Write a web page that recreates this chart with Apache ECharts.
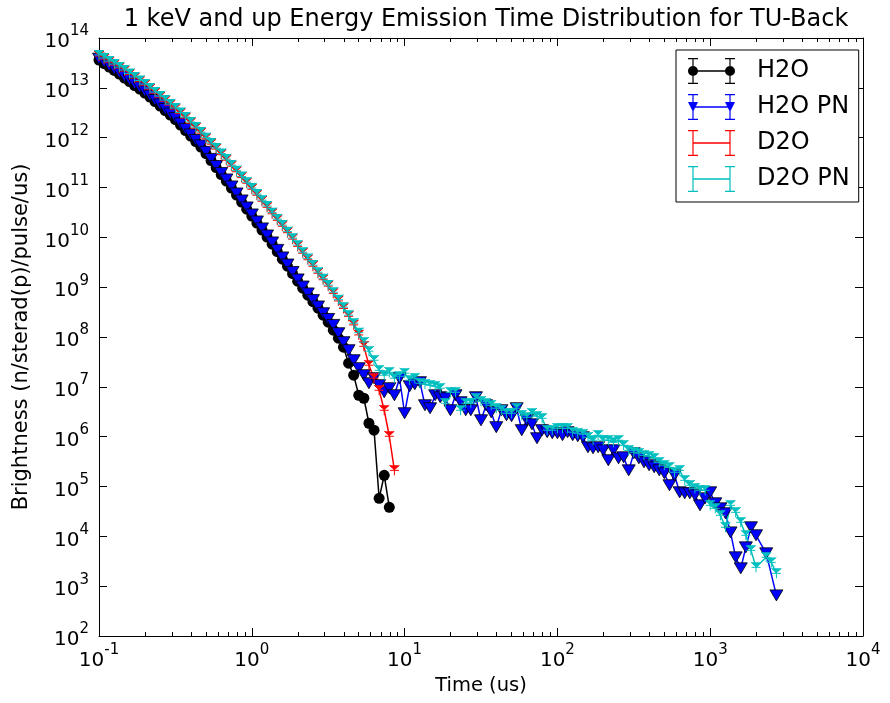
<!DOCTYPE html>
<html><head><meta charset="utf-8">
<script src="https://cdn.jsdelivr.net/npm/echarts@6/dist/echarts.min.js"></script>
<style>html,body{margin:0;padding:0;background:#fff}#c{width:890px;height:703px}</style>
</head><body><div id="c"></div>
<script>
// Time bins (us)
const time = [
0.1,0.108,0.1166,0.1259,0.1359,0.1468,0.1585,0.1711,0.1848,0.1995,0.2154,0.2326,0.2512,0.2712,0.2929,0.3162,0.3415,0.3687,0.3981,0.4299,0.4642,0.5012,0.5412,0.5843,0.631,0.6813,0.7356,0.7943,0.8577,0.9261,
1,1.08,1.166,1.259,1.359,1.468,1.585,1.711,1.848,1.995,2.154,2.326,2.512,2.712,2.929,3.162,3.415,3.687,3.981,4.299,4.642,5.012,5.412,5.843,6.31,6.813,7.356,7.943,8.577,9.261,
10,10.8,11.66,12.59,13.59,14.68,15.85,17.11,18.48,19.95,21.54,23.26,25.12,27.12,29.29,31.62,34.15,36.87,39.81,42.99,46.42,50.12,54.12,58.43,63.1,68.13,73.56,79.43,85.77,92.61,
100,108,116.6,125.9,135.9,146.8,158.5,171.1,184.8,199.5,215.4,232.6,251.2,271.2,292.9,316.2,341.5,368.7,398.1,429.9,464.2,501.2,541.2,584.3,631,681.3,735.6,794.3,857.7,926.1,
1000,1080,1166,1259,1359,1468,1585,1711,1848,1995,2154,2326,2512,2712];

const h2o = [
3.62e13,3.08e13,2.62e13,2.23e13,1.89e13,1.57e13,1.34e13,1.11e13,9.46e12,7.87e12,
6.53e12,5.31e12,4.31e12,3.50e12,2.84e12,2.31e12,1.79e12,1.39e12,1.08e12,8.35e11,
6.48e11,4.80e11,3.47e11,2.51e11,1.82e11,1.35e11,9.73e10,7.04e10,5.09e10,3.68e10,
2.67e10,1.93e10,1.40e10,1.01e10,7.30e9,5.16e9,3.65e9,2.64e9,1.87e9,1.32e9,
9.55e8,6.91e8,5.12e8,3.79e8,2.74e8,1.98e8,1.37e8,9.46e7,6.24e7,2.98e7,
1.71e7,6.78e6,5.90e6,1.86e6,1.35e6,5.80e4,1.68e5,3.82e4];

const h2oPN = [
3.85e13,3.3e13,2.8e13,2.4e13,2.03e13,1.69e13,1.44e13,1.2e13,1.02e13,8.5e12,
7.0e12,5.7e12,4.65e12,3.76e12,3.05e12,2.49e12,1.93e12,1.5e12,1.16e12,9.0e11,
7.0e11,5.2e11,3.75e11,2.7e11,1.96e11,1.45e11,1.05e11,7.6e10,5.5e10,3.98e10,
2.88e10,2.08e10,1.51e10,1.09e10,7.9e9,5.6e9,3.95e9,2.85e9,2.02e9,1.43e9,
1.03e9,7.5e8,5.5e8,4.1e8,3.0e8,2.3e8,1.75e8,1.19e8,7.87e7,5.43e7,
3.42e7,2.36e7,1.71e7,1.18e7,1.49e7,1.08e7,7.79e6,9.38e6,6.78e6,1.49e7,
2.95e6,1.03e7,1.13e7,1.24e7,4.27e6,3.72e6,6.78e6,6.18e6,5.90e6,3.39e6,
6.78e6,4.91e6,3.39e6,3.39e6,6.18e6,2.13e6,4.27e6,3.09e6,1.55e6,3.39e6,
2.69e6,2.57e6,3.72e6,1.35e6,2.13e6,1.77e6,9.29e5,1.35e6,1.23e6,1.17e6,
1.17e6,1.07e6,1.23e6,1.07e6,1.02e6,9.73e5,6.12e5,5.85e5,6.12e5,5.33e5,
3.36e5,5.33e5,3.68e5,3.86e5,2.11e5,4.64e5,3.68e5,3.06e5,2.67e5,2.43e5,
2.11e5,1.84e5,1.06e5,1.68e5,7.65e4,7.30e4,7.30e4,6.65e4,4.19e4,5.80e4,
7.65e4,4.60e4,3.65e4,2.90e4,1.20e4,3.79e3,2.28e3,6.01e3,1.52e4,1.05e4,
null,4.56e3,null,653];

const d2o = [
4.35e13,3.78e13,3.28e13,2.86e13,2.49e13,2.17e13,1.84e13,1.57e13,1.33e13,1.13e13,
9.4e12,7.8e12,6.5e12,5.4e12,4.5e12,3.73e12,3.03e12,2.46e12,1.96e12,1.55e12,
1.23e12,9.5e11,7.4e11,5.9e11,4.56e11,3.53e11,2.68e11,2.07e11,1.58e11,1.22e11,
9.2e10,7.0e10,5.3e10,4.0e10,2.97e10,2.2e10,1.67e10,1.24e10,9.2e9,6.6e9,
4.8e9,3.55e9,2.63e9,1.9e9,1.41e9,1.05e9,7.5e8,5.3e8,3.75e8,2.6e8,
1.75e8,1.1e8,6.5e7,2.72e7,1.49e7,8.54e6,3.39e6,1.02e6,2.11e5];

const d2oPN = [
4.56e13,3.97e13,3.45e13,3.01e13,2.62e13,2.28e13,1.94e13,1.65e13,1.40e13,1.19e13,
9.91e12,8.24e12,6.84e12,5.69e12,4.73e12,3.93e12,3.19e12,2.59e12,2.06e12,1.63e12,
1.30e12,1.00e12,7.79e11,6.18e11,4.80e11,3.72e11,2.82e11,2.18e11,1.66e11,1.28e11,
9.73e10,7.37e10,5.58e10,4.23e10,3.13e10,2.32e10,1.76e10,1.30e10,9.64e9,6.97e9,
5.04e9,3.74e9,2.77e9,2.00e9,1.48e9,1.10e9,7.94e8,5.61e8,3.97e8,2.74e8,
1.89e8,1.22e8,7.87e7,5.19e7,3.42e7,2.15e7,1.71e7,1.96e7,1.49e7,1.63e7,
1.88e7,1.36e7,1.49e7,1.18e7,1.13e7,1.08e7,1.03e7,9.38e6,4.69e6,7.79e6,
7.79e6,3.39e6,4.69e6,4.69e6,5.90e6,5.14e6,4.69e6,4.27e6,3.72e6,3.39e6,
2.95e6,2.95e6,3.72e6,2.69e6,2.45e6,2.95e6,2.57e6,2.34e6,1.35e6,1.35e6,
1.47e6,1.47e6,1.47e6,1.23e6,1.17e6,1.12e6,9.73e5,8.47e5,1.07e6,8.47e5,
8.47e5,7.72e5,8.47e5,6.72e5,5.33e5,4.86e5,4.64e5,4.23e5,4.04e5,3.68e5,
3.06e5,2.67e5,2.43e5,1.93e5,2.11e5,1.33e5,1.06e5,9.20e4,8.39e4,8.39e4,
4.19e4,3.65e4,2.64e4,1.52e4,4.19e4,3.03e4,1.91e4,1.05e4,5.23e3,2.39e3,
null,3.79e3,3.00e3,1.81e3];

const seriesNames = ['H2O', 'H2O PN', 'D2O', 'D2O PN'];
const xMinorTicks = [0.2,0.3,0.4,0.5,0.6,0.7,0.8,0.9,2,3,4,5,6,7,8,9,20,30,40,50,60,70,80,90,200,300,400,500,600,700,800,900,2000,3000,4000,5000,6000,7000,8000,9000];

function pairs(vals) {
  const out = [];
  vals.forEach((v, i) => { if (v != null) out.push([time[i], v]); });
  return out;
}

const FONT = 'DejaVu Sans';
function supFmt(v) {
  const e = Math.round(Math.log10(v));
  return '{b|10}{s|' + e + '}';
}
const richLab = {
  b: { fontSize: 20, fontFamily: FONT, color: '#000', verticalAlign: 'bottom', lineHeight: 28 },
  s: { fontSize: 15, fontFamily: FONT, color: '#000', verticalAlign: 'top', lineHeight: 28 }
};

// legend icons (errorbar style)
const bars = 'M5 12.3 H42 V13.7 H5 Z M4.4 1 H5.6 V25 H4.4 Z M0 0 H10 V1.2 H0 Z M0 24.8 H10 V26 H0 Z M41.4 1 H42.6 V25 H41.4 Z M37 0 H47 V1.2 H37 Z M37 24.8 H47 V26 H37 Z ';
const iconH2O = 'path://' + bars + 'M0 13 a5 5 0 1 1 10 0 a5 5 0 1 1 -10 0 Z M37 13 a5 5 0 1 1 10 0 a5 5 0 1 1 -10 0 Z';
const iconH2OPN = 'path://' + bars + 'M0 8 H10 L5 18 Z M37 8 H47 L42 18 Z';
const iconD = 'path://' + bars;
const triPath = 'path://M0 1 L5 5 L10 1 M5 5 L5 10 M0.5 5.5 L9.5 5.5';

const chart = echarts.init(document.getElementById('c'), null, { renderer: 'canvas' });
const axisLineStyle = { color: '#000', width: 1 };
function xAxisDef(pos, opts) {
  return Object.assign({
    type: 'log', logBase: 10, min: 0.1, max: 10000, interval: 1, position: pos, gridIndex: 0,
    axisLine: { show: true, lineStyle: axisLineStyle },
    axisTick: { show: true, inside: true, length: 8, lineStyle: { color: '#000', width: 1 } },
    axisLabel: { show: false },
    splitLine: { show: false }
  }, opts);
}
function yAxisDef(pos, opts) {
  return Object.assign({
    type: 'log', logBase: 10, min: 1e2, max: 1e14, interval: 1, position: pos,
    axisLine: { show: true, lineStyle: axisLineStyle },
    axisTick: { show: true, inside: true, length: 8, lineStyle: { color: '#000', width: 1 } },
    axisLabel: { show: false },
    splitLine: { show: false }
  }, opts);
}

chart.setOption({
  animation: false,
  backgroundColor: '#fff',
  title: {
    text: '1 keV and up Energy Emission Time Distribution for TU-Back',
    left: 481, top: 3, textAlign: 'center',
    textStyle: { fontFamily: FONT, fontSize: 24, fontWeight: 'normal', color: '#000' }
  },
  grid: { left: 99, right: 27, top: 38, bottom: 67, containLabel: false },
  legend: {
    orient: 'vertical', left: 676, top: 50,
    padding: [8, 9, 10, 12], itemGap: 10, itemWidth: 47, itemHeight: 26,
    borderColor: '#000', borderWidth: 1, backgroundColor: '#fff',
    textStyle: { fontFamily: FONT, fontSize: 24, lineHeight: 26, color: '#000', padding: [0, 0, 0, 17] },
    data: [
      { name: 'H2O', icon: iconH2O, itemStyle: { color: '#000', borderWidth: 0 } },
      { name: 'H2O PN', icon: iconH2OPN, itemStyle: { color: '#0000ff', borderWidth: 0 } },
      { name: 'D2O', icon: iconD, itemStyle: { color: '#ff0000', borderWidth: 0 } },
      { name: 'D2O PN', icon: iconD, itemStyle: { color: '#00bfbf', borderWidth: 0 } }
    ]
  },
  xAxis: [
    xAxisDef('bottom', {
      name: 'Time (us)', nameLocation: 'middle', nameGap: 40,
      nameTextStyle: { fontFamily: FONT, fontSize: 19.5, color: '#000' },
      axisLabel: { show: true, margin: 7, formatter: supFmt, rich: richLab }
    }),
    xAxisDef('top', {}),
    xAxisDef('bottom', { axisLine: { show: false }, axisTick: { show: true, inside: true, length: 4, customValues: xMinorTicks, lineStyle: { color: '#000' } } }),
    xAxisDef('top', { axisLine: { show: false }, axisTick: { show: true, inside: true, length: 4, customValues: xMinorTicks, lineStyle: { color: '#000' } } })
  ],
  yAxis: [
    yAxisDef('left', {
      name: 'Brightness (n/sterad(p)/pulse/us)', nameLocation: 'middle', nameGap: 67,
      nameTextStyle: { fontFamily: FONT, fontSize: 21, color: '#000' },
      axisLabel: { show: true, margin: 10, formatter: supFmt, rich: richLab }
    }),
    yAxisDef('right', {})
  ],
  series: [
    {
      name: 'H2O', type: 'line', xAxisIndex: 0, yAxisIndex: 0, data: pairs(h2o),
      showAllSymbol: true, symbol: 'circle', symbolSize: 11,
      lineStyle: { color: '#000', width: 1.5 },
      itemStyle: { color: '#000' }
    },
    {
      name: 'H2O PN', type: 'line', xAxisIndex: 0, yAxisIndex: 0, data: pairs(h2oPN),
      showAllSymbol: true, symbol: 'triangle', symbolRotate: 180, symbolSize: [13, 11],
      lineStyle: { color: '#0000ff', width: 1.5 },
      itemStyle: { color: '#0000ff', borderColor: '#000', borderWidth: 0.8 }
    },
    {
      name: 'D2O', type: 'line', xAxisIndex: 0, yAxisIndex: 0, data: pairs(d2o),
      showAllSymbol: true, symbol: triPath, symbolSize: 10,
      lineStyle: { color: '#ff0000', width: 1.5 },
      itemStyle: { color: '#ff0000', borderColor: '#ff0000', borderWidth: 1 }
    },
    {
      name: 'D2O PN', type: 'line', xAxisIndex: 0, yAxisIndex: 0, data: pairs(d2oPN),
      showAllSymbol: true, symbol: triPath, symbolSize: 10,
      lineStyle: { color: '#00bfbf', width: 1.5 },
      itemStyle: { color: '#00bfbf', borderColor: '#00bfbf', borderWidth: 1 }
    }
  ]
});
</script></body></html>
